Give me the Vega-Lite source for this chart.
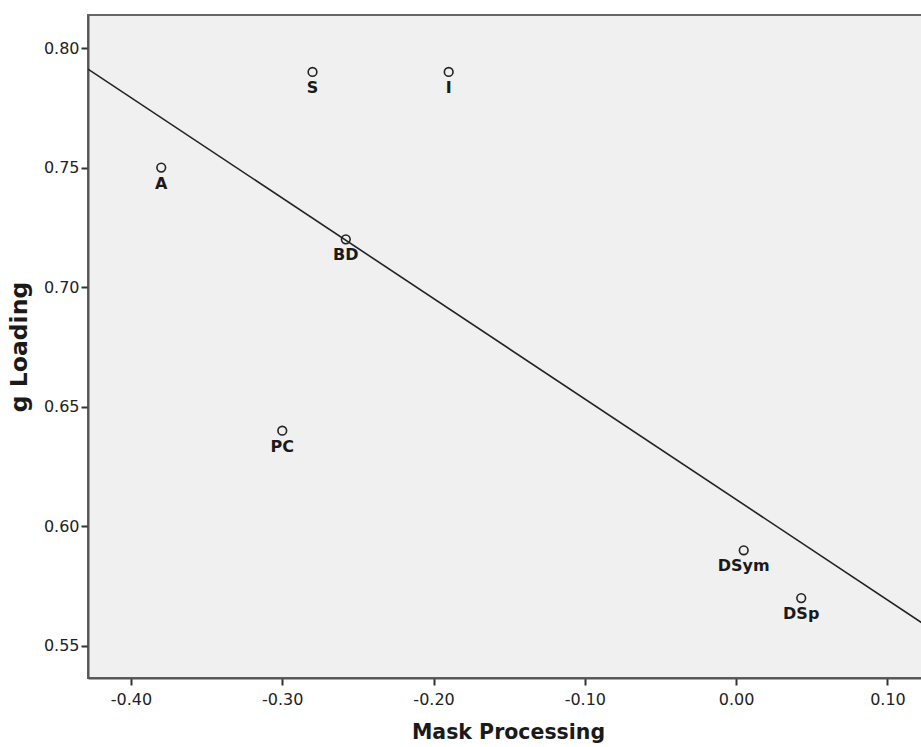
{
  "$schema": "https://vega.github.io/schema/vega-lite/v6.json",
  "autosize": "none",
  "padding": {"left": 88, "top": 15, "right": 0, "bottom": 69},
  "width": 840,
  "height": 663,
  "background": "white",
  "config": {
    "view": {"fill": "#f0f0f0", "stroke": "#666666", "strokeWidth": 2},
    "font": "DejaVu Sans"
  },
  "data": {
    "values": [
      {"mask": -0.28, "g": 0.79, "label": "S"},
      {"mask": -0.19, "g": 0.79, "label": "I"},
      {"mask": -0.38, "g": 0.75, "label": "A"},
      {"mask": -0.258, "g": 0.72, "label": "BD"},
      {"mask": -0.30, "g": 0.64, "label": "PC"},
      {"mask": 0.005, "g": 0.59, "label": "DSym"},
      {"mask": 0.043, "g": 0.57, "label": "DSp"}
    ]
  },
  "encoding": {
    "x": {
      "field": "mask", "type": "quantitative",
      "scale": {"domain": [-0.4284, 0.1268], "nice": false, "zero": false},
      "axis": {
        "title": "Mask Processing", "values": [-0.4, -0.3, -0.2, -0.1, 0.0, 0.1], "format": ".2f",
        "labelExpr": "replace(datum.label, '\u2212', '-')",
        "grid": false, "domainColor": "#555555", "domainWidth": 2, "tickColor": "#333333", "tickWidth": 2, "tickSize": 7,
        "labelFont": "DejaVu Sans", "labelFontSize": 16, "labelColor": "#222222", "labelPadding": 6,
        "titleFont": "DejaVu Sans", "titleFontSize": 20.5, "titleFontWeight": "bold", "titleColor": "#1a1a1a", "titlePadding": 15
      }
    },
    "y": {
      "field": "g", "type": "quantitative",
      "scale": {"domain": [0.5366, 0.8138], "nice": false, "zero": false},
      "axis": {
        "title": "g Loading", "values": [0.55, 0.6, 0.65, 0.7, 0.75, 0.8], "format": ".2f",
        "grid": false, "domainColor": "#555555", "domainWidth": 2, "tickColor": "#333333", "tickWidth": 2, "tickSize": 7,
        "labelFont": "DejaVu Sans", "labelFontSize": 16, "labelColor": "#222222", "labelPadding": 2,
        "titleFont": "DejaVu Sans", "titleFontSize": 23.5, "titleFontWeight": "bold", "titleColor": "#1a1a1a", "titlePadding": 12
      }
    }
  },
  "layer": [
    {
      "transform": [{"regression": "g", "on": "mask", "extent": [-0.4284, 0.1268]}],
      "mark": {"type": "line", "color": "#222222", "strokeWidth": 1.6, "clip": true}
    },
    {
      "mark": {"type": "point", "shape": "circle", "filled": false, "size": 75, "stroke": "#222222", "strokeWidth": 1.6, "opacity": 1}
    },
    {
      "mark": {"type": "text", "dy": 16, "fontSize": 16, "fontWeight": "bold", "color": "#1a1a1a", "font": "DejaVu Sans"},
      "encoding": {"text": {"field": "label"}}
    }
  ]
}
